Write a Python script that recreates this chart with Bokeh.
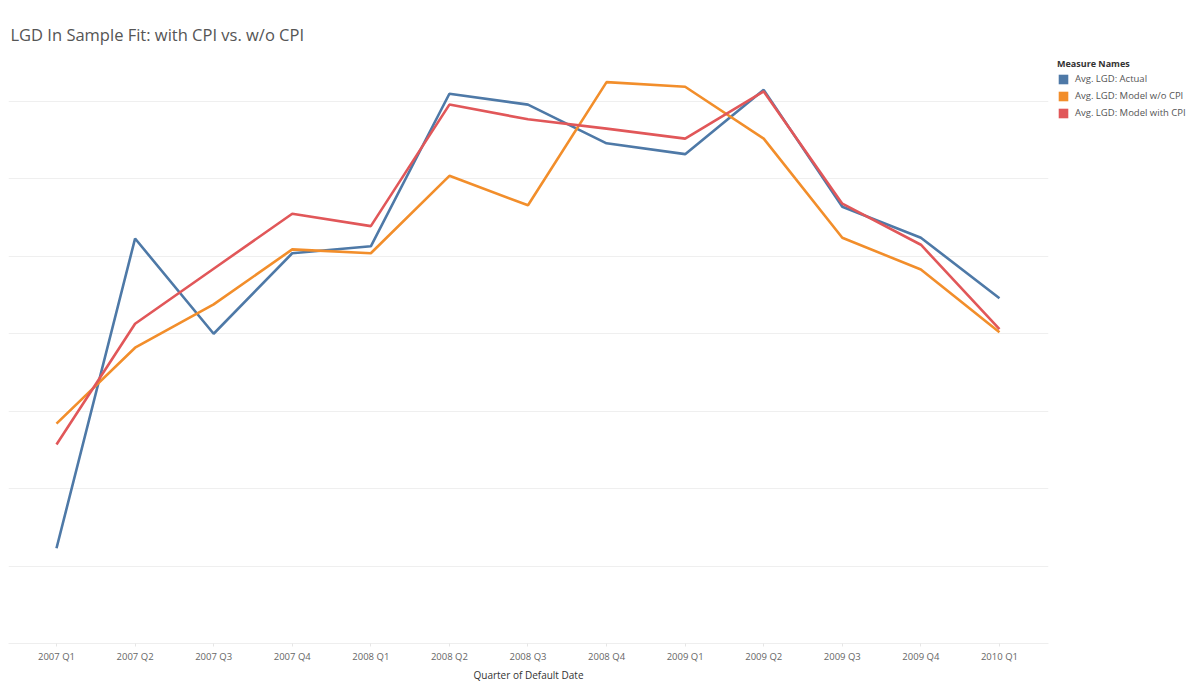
from bokeh.plotting import figure
from bokeh.models import (ColumnDataSource, Range1d, FixedTicker, Legend, LegendItem)
from bokeh.embed import file_html
from bokeh.resources import INLINE

quarters = ["2007 Q1", "2007 Q2", "2007 Q3", "2007 Q4", "2008 Q1", "2008 Q2", "2008 Q3",
            "2008 Q4", "2009 Q1", "2009 Q2", "2009 Q3", "2009 Q4", "2010 Q1"]
lgd_actual = [1.23, 5.23, 4.00, 5.04, 5.13, 7.10, 6.96, 6.46, 6.32, 7.15, 5.64, 5.24, 4.46]
lgd_model_wo_cpi = [2.84, 3.82, 4.38, 5.09, 5.04, 6.04, 5.66, 7.25, 7.19, 6.52, 5.24, 4.83, 4.02]
lgd_model_with_cpi = [2.57, 4.13, 4.84, 5.55, 5.39, 6.96, 6.77, 6.65, 6.52, 7.13, 5.68, 5.15, 4.06]
series_names = ["Avg. LGD: Actual", "Avg. LGD: Model w/o CPI", "Avg. LGD: Model with CPI"]
series_colors = ["#4e79a7", "#f28e2b", "#e15759"]
grid_ticks = [0, 1, 2, 3, 4, 5, 6, 7]

xs = list(range(len(quarters)))
src = ColumnDataSource(dict(x=xs, a=lgd_actual, b=lgd_model_wo_cpi, c=lgd_model_with_cpi))

FONT = "Open Sans"
frame_w, frame_h = 1040, 595
px_unit = 77.43
px_cat = 78.58

p = figure(output_backend="svg", toolbar_location=None,
           x_range=Range1d(-48 / px_cat, -48 / px_cat + frame_w / px_cat),
           y_range=Range1d(0, frame_h / px_unit),
           min_border_left=8, min_border_top=48, min_border_bottom=33, min_border_right=0)
p.frame_width = frame_w
p.frame_height = frame_h
p.outline_line_color = None
p.background_fill_color = "white"
p.border_fill_color = "white"

p.title.text = "LGD In Sample Fit: with CPI vs. w/o CPI"
p.title.text_font = FONT
p.title.text_font_size = "16.5px"
p.title.text_font_style = "normal"
p.title.text_color = "#555555"
p.title.offset = 2
p.title.standoff = 5

# axes
p.yaxis.visible = False
p.yaxis.ticker = FixedTicker(ticks=grid_ticks)
p.ygrid.ticker = FixedTicker(ticks=grid_ticks)
p.ygrid.grid_line_color = "#efefef"
p.ygrid.grid_line_width = 1
p.xgrid.visible = False

ax = p.xaxis[0]
ax.ticker = FixedTicker(ticks=xs)
ax.major_label_overrides = {i: q for i, q in enumerate(quarters)}
ax.major_label_text_font = FONT
ax.major_label_text_font_size = "9.5px"
ax.major_label_text_color = "#666666"
ax.major_label_standoff = 3
ax.axis_line_color = "#eeeeee"
ax.major_tick_line_color = "#e6e6e6"
ax.major_tick_in = 0
ax.major_tick_out = 3
ax.minor_tick_line_color = None
ax.axis_label = "Quarter of Default Date"
ax.axis_label_text_font = FONT
ax.axis_label_text_font_size = "10px"
ax.axis_label_text_font_style = "normal"
ax.axis_label_text_color = "#333333"
ax.axis_label_standoff = 2

for col, color in zip(["a", "b", "c"], series_colors):
    p.line("x", col, source=src, line_color=color, line_width=2.6)

# legend swatches (area glyphs with no visible data)
nan = float("nan")
items = []
for name, color in zip(series_names, series_colors):
    s = p.quad(left=[nan], right=[nan], bottom=[nan], top=[nan],
               fill_color=color, line_color=None)
    items.append(LegendItem(label=name, renderers=[s]))

legend = Legend(items=items, location="top_left", title="Measure Names",
                title_text_font=FONT, title_text_font_size="9px", title_text_font_style="bold",
                title_text_color="#333333", title_standoff=2,
                label_text_font=FONT, label_text_font_size="9.5px", label_text_color="#555555",
                glyph_width=12, glyph_height=12, label_height=12, label_standoff=6,
                spacing=4, padding=0, margin=9, border_line_color=None,
                background_fill_alpha=0)
p.add_layout(legend, "right")

open("out.html", "w").write(file_html(p, INLINE))
